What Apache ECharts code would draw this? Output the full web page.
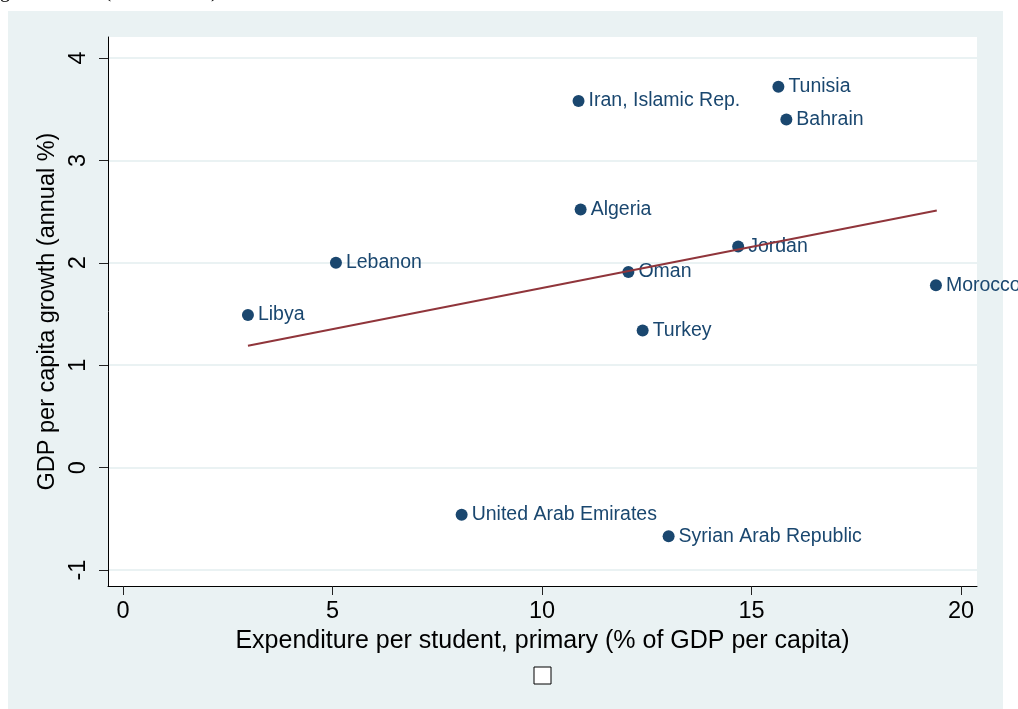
<!DOCTYPE html>
<html>
<head>
<meta charset="utf-8">
<script src="https://cdn.jsdelivr.net/npm/echarts@6/dist/echarts.min.js"></script>
<style>
html,body{margin:0;padding:0;background:#fff;}
#chart{width:1018px;height:709px;}
</style>
</head>
<body>
<div id="chart"></div>
<script>
// ---- data ----
const countries = ['Libya','Lebanon','Iran, Islamic Rep.','Algeria','Oman','Turkey','United Arab Emirates','Syrian Arab Republic','Jordan','Tunisia','Bahrain','Morocco'];
const expenditure = [2.98, 5.08, 10.87, 10.92, 12.06, 12.40, 8.08, 13.02, 14.68, 15.64, 15.83, 19.40];
const growth = [1.49, 2.00, 3.58, 2.52, 1.91, 1.34, -0.46, -0.67, 2.16, 3.72, 3.40, 1.78];
const fitX = [2.98, 19.42];
const fitY = [1.19, 2.51];
const xTicks = [0, 5, 10, 15, 20];
const yTicks = [-1, 0, 1, 2, 3, 4];
const xTitle = 'Expenditure per student, primary (% of GDP per capita)';
const yTitle = 'GDP per capita growth (annual %)';
const topCaption = 'growth rates (2000 \u2013 2010)';

const FONT = '"Liberation Sans", Arial, Helvetica, sans-serif';
const NAVY = '#1a476f';
const MAROON = '#90353b';
const PANEL = '#eaf2f3';

const chart = echarts.init(document.getElementById('chart'), null, {renderer: 'canvas'});
const points = countries.map((c, i) => ({name: c, value: [expenditure[i], growth[i]]}));
const fit = fitX.map((x, i) => [x, fitY[i]]);

chart.setOption({
  backgroundColor: '#ffffff',
  animation: false,
  graphic: [
    {type: 'rect', z: -10, shape: {x: 8, y: 11, width: 995, height: 710}, style: {fill: PANEL}},
    {type: 'text', z: -5, x: 0, y: -8, style: {text: topCaption, font: '20px "Liberation Serif", "Times New Roman", serif', fill: '#000', verticalAlign: 'middle'}},
    {type: 'rect', z: 10, shape: {x: 534, y: 667, width: 17, height: 17}, style: {fill: '#ffffff', stroke: '#000', lineWidth: 1}}
  ],
  grid: {left: 108, top: 37, width: 869, height: 549, show: true, backgroundColor: '#ffffff', borderWidth: 0, containLabel: false},
  xAxis: {
    type: 'value', min: -0.36, max: 20.38,
    name: xTitle, nameLocation: 'middle', nameGap: 38,
    nameTextStyle: {fontFamily: FONT, fontSize: 25, color: '#000'},
    axisLine: {show: true, onZero: false, lineStyle: {color: '#000', width: 1}},
    axisTick: {show: true, length: 9, customValues: xTicks, lineStyle: {color: '#222'}},
    axisLabel: {customValues: xTicks, margin: 14, fontFamily: FONT, fontSize: 23.5, color: '#000'},
    splitLine: {show: false}
  },
  yAxis: {
    type: 'value', min: -1.156, max: 4.205,
    name: yTitle, nameLocation: 'middle', nameGap: 46, nameRotate: 90,
    nameTextStyle: {fontFamily: FONT, fontSize: 23.5, color: '#000'},
    axisLine: {show: true, onZero: false, lineStyle: {color: '#000', width: 1}},
    axisTick: {show: true, length: 9, customValues: yTicks, lineStyle: {color: '#222'}},
    axisLabel: {customValues: yTicks, rotate: 90, margin: 17, fontFamily: FONT, fontSize: 23.5, color: '#000'},
    splitLine: {show: true, lineStyle: {color: PANEL, width: 2}}
  },
  series: [
    {
      type: 'scatter', z: 2, data: points, symbol: 'circle', symbolSize: 12,
      itemStyle: {color: NAVY, opacity: 1},
      label: {show: true, position: 'right', distance: 4, formatter: p => p.name,
        fontFamily: FONT, fontSize: 19.5, color: NAVY},
      labelLayout: {hideOverlap: false}
    },
    {
      type: 'line', z: 3, data: fit, symbol: 'none', silent: true,
      lineStyle: {color: MAROON, width: 2}
    }
  ]
});
</script>
</body>
</html>
